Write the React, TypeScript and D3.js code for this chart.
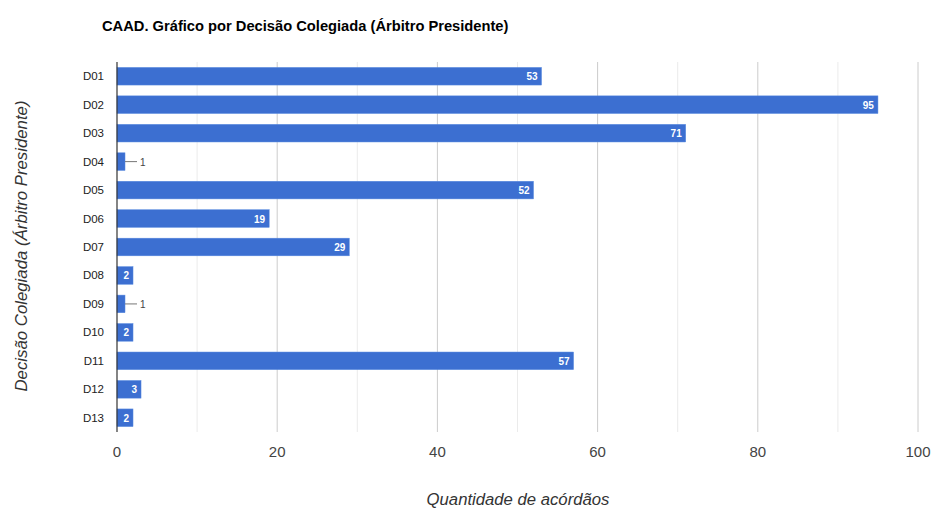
import React from "react";
import * as d3 from "d3";

const categories = ["D01","D02","D03","D04","D05","D06","D07","D08","D09","D10","D11","D12","D13"];
const values = [53,95,71,1,52,19,29,2,1,2,57,3,2];
const xTicks = [0,20,40,60,80,100];
const minorTicks = [10,30,50,70,90];

const W = 934, H = 510;
const left = 117, right = 918, top = 62, bottom = 432;

export default function App() {
  const x = d3.scaleLinear().domain([0,100]).range([left,right]);
  const y = d3.scaleBand().domain(categories).range([top,bottom]).paddingInner(0.38).paddingOuter(0.19);
  const bh = y.bandwidth();
  return (
    <svg width={W} height={H} style={{position:"absolute",left:0,top:0,background:"#fff"}} fontFamily="'Liberation Sans', Arial, sans-serif">
      <text x={102} y={31} fontSize={14.7} fontWeight="bold" fill="#000">CAAD. Gráfico por Decisão Colegiada (Árbitro Presidente)</text>
      {minorTicks.map(t => <line key={"m"+t} x1={x(t)} x2={x(t)} y1={top} y2={bottom} stroke="#ebebeb" strokeWidth={1}/>)}
      {xTicks.filter(t=>t>0).map(t => <line key={"g"+t} x1={x(t)} x2={x(t)} y1={top} y2={bottom} stroke="#cccccc" strokeWidth={1}/>)}
      {xTicks.map(t => <text key={"t"+t} x={x(t)} y={457} fontSize={15} fill="#444" textAnchor="middle">{t}</text>)}
      {categories.map((c,i) => {
        const v = values[i];
        const yy = y(c)!;
        const xe = x(v);
        const cy = yy + bh/2;
        return (
          <g key={c}>
            <rect x={x(0)} y={yy} width={xe - x(0)} height={bh} fill="#3c6fd1" stroke="#5a8be0" strokeWidth={0.5}/>
            <text x={104} y={cy+4} fontSize={11.5} fill="#222" textAnchor="end">{c}</text>
            {v >= 2 ? (
              <text x={xe-4} y={cy+4} fontSize={10} fontWeight="bold" fill="#fff" textAnchor="end">{v}</text>
            ) : (
              <g>
                <line x1={xe} x2={xe+12} y1={cy} y2={cy} stroke="#777" strokeWidth={1}/>
                <text x={xe+15} y={cy+4} fontSize={10} fill="#444">{v}</text>
              </g>
            )}
          </g>
        );
      })}
      <line x1={x(0)} x2={x(0)} y1={top} y2={bottom} stroke="#333" strokeWidth={1.2}/>
      <text x={518} y={505} fontSize={16.7} fontStyle="italic" fill="#333" textAnchor="middle">Quantidade de acórdãos</text>
      <text transform={`translate(27,246) rotate(-90)`} fontSize={16.8} fontStyle="italic" fill="#333" textAnchor="middle">Decisão Colegiada (Árbitro Presidente)</text>
    </svg>
  );
}
